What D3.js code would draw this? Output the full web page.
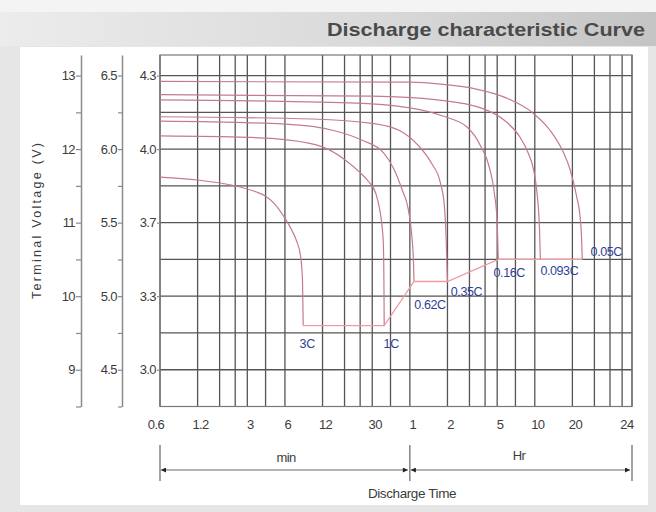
<!DOCTYPE html>
<html>
<head>
<meta charset="utf-8">
<script src="https://cdn.jsdelivr.net/npm/d3@7"></script>
<style>
  html, body { margin: 0; padding: 0; background: #e6e6e6; }
  svg { display: block; font-family: "Liberation Sans", Arial, sans-serif; }
</style>
</head>
<body>
<svg id="chart" width="656" height="512"></svg>
<script>
// ---------------- DATA ----------------
const title = "Discharge characteristic Curve";
const yLabel = "Terminal Voltage  (V)";
const xLabel = "Discharge Time";

// time in minutes
const xTickValues = [0.6, 1.2, 3, 6, 12, 30, 60, 120, 300, 600, 1200, 3600];
const xTickLabels = ["0.6", "1.2", "3", "6", "12", "30", "1", "2", "5", "10", "20", "24"];
const gridTimes = [0.6, 1.2, 1.8, 2.4, 3, 4.2, 6, 12, 18, 24, 30, 42, 60, 120, 180, 240, 300, 420,
                   600, 1200, 1800, 2400, 3000, 3600];

// voltages (12 V battery)
const v12Ticks = [13, 12, 11, 10, 9];
const v12Minor = [12.5, 11.5, 10.5, 9.5, 8.5];
const v6Ticks = [6.5, 6.0, 5.5, 5.0, 4.5];
const v6Minor = [6.25, 5.75, 5.25, 4.75, 4.25];
const cellTickLabels = ["4.3", "4.0", "3.7", "3.3", "3.0"];
const hGrid = [13, 12.5, 12, 11.5, 11, 10.5, 10, 9.5, 9];

// discharge curves: [minutes, volts(12V)]
const rates = ["3C", "1C", "0.62C", "0.35C", "0.16C", "0.093C", "0.05C"];
const c3C = [[0.6, 11.62], [1.2, 11.58], [2.4, 11.5], [3.5, 11.42], [4.2, 11.36], [5, 11.25], [6, 11.06],
             [6.8, 10.9], [7.4, 10.76], [8, 10.55], [8.3, 10.2], [8.4, 9.6]];
const c1C = [[0.6, 12.18], [3, 12.16], [6, 12.13], [12, 12.03], [18, 11.86], [24, 11.68], [28, 11.56],
             [32, 11.4], [34.5, 11.17], [36, 10.94], [36.8, 10.72], [37.2, 10.2], [37.4, 9.6]];
const c062C = [[0.6, 12.38], [6, 12.34], [15, 12.25], [25, 12.12], [37, 11.95], [45, 11.72], [52, 11.45],
               [58, 11.2], [62, 10.85], [64, 10.5], [64.8, 10.2]];
const c035C = [[0.6, 12.44], [10, 12.41], [30, 12.35], [50, 12.25], [70, 12.05], [90, 11.8], [105, 11.55],
               [113, 11.25], [117, 10.8], [120, 10.2]];
const c016C = [[0.6, 12.67], [20, 12.63], [60, 12.56], [110, 12.45], [172, 12.3], [220, 12.05], [260, 11.75],
               [285, 11.4], [300, 11.0], [306, 10.5]];
const c0093C = [[0.6, 12.74], [30, 12.72], [100, 12.67], [231, 12.55], [350, 12.38], [450, 12.18], [530, 11.95],
                [590, 11.7], [630, 11.35], [655, 10.9], [665, 10.5]];
const c005C = [[0.6, 12.92], [60, 12.91], [110, 12.88], [200, 12.82], [350, 12.7], [581, 12.49], [800, 12.25],
               [1000, 11.98], [1151, 11.72], [1300, 11.35], [1383, 11.08], [1420, 10.8], [1440, 10.5]];
const curves = [c3C, c1C, c062C, c035C, c016C, c0093C, c005C];
// final (cut-off) voltage line
const endLine = [[8.4, 9.6], [37.4, 9.6], [64.8, 10.2], [120, 10.2], [306, 10.5], [665, 10.5], [1440, 10.5]];

// label pixel offsets from the curve end (style)
const labelOffsets = [[4, 18], [7, 18], [16, 23], [19, 10], [11, 13], [19, 11], [24, -8]];

// ---------------- CHART ----------------
const svg = d3.select("#chart");
const W = 656, H = 512;

const defs = svg.append("defs");
const hg = defs.append("linearGradient").attr("id", "hdr").attr("x1", 0).attr("x2", 1);
hg.append("stop").attr("offset", "0%").attr("stop-color", "#ececec");
hg.append("stop").attr("offset", "55%").attr("stop-color", "#dadada");
hg.append("stop").attr("offset", "100%").attr("stop-color", "#c4c4c4");

svg.append("rect").attr("width", W).attr("height", H).attr("fill", "#e6e6e6");
svg.append("rect").attr("x", 0).attr("y", 0).attr("width", W).attr("height", 12).attr("fill", "#f4f4f4");
svg.append("rect").attr("x", 0).attr("y", 12).attr("width", W).attr("height", 34).attr("fill", "url(#hdr)");
svg.append("rect").attr("x", 20).attr("y", 47).attr("width", 628).attr("height", 458).attr("fill", "#ffffff");

svg.append("text").attr("x", 645).attr("y", 36).attr("text-anchor", "end")
  .attr("font-size", 18.5).attr("font-weight", "bold").attr("fill", "#4a4a4a")
  .attr("textLength", 318).attr("lengthAdjust", "spacingAndGlyphs")
  .text(title);

const L = 160, R = 632, T = 55, B = 406.5;
const x = d3.scaleLog().domain([0.6, 3600]).range([L, R]);
const y = d3.scaleLinear().domain([8.5, 13.28]).range([B, T]);
const y6 = d3.scaleLinear().domain([4.25, 6.64]).range([B, T]);

const gridColor = "#555555";
// grid
svg.append("g").selectAll("line").data(gridTimes).join("line")
  .attr("x1", d => x(d)).attr("x2", d => x(d)).attr("y1", T).attr("y2", B)
  .attr("stroke", gridColor).attr("stroke-width", 1.3);
svg.append("g").selectAll("line").data(hGrid).join("line")
  .attr("x1", L).attr("x2", R).attr("y1", d => y(d)).attr("y2", d => y(d))
  .attr("stroke", gridColor).attr("stroke-width", 1.3);
svg.append("rect").attr("x", L).attr("y", T).attr("width", R - L).attr("height", B - T)
  .attr("fill", "none").attr("stroke", "#777").attr("stroke-width", 1.2);

// curves
const line = d3.line().x(d => x(d[0])).y(d => y(d[1])).curve(d3.curveMonotoneX);
svg.append("g").selectAll("path").data(curves).join("path")
  .attr("d", line).attr("fill", "none").attr("stroke", "#c47b8c").attr("stroke-width", 1.2);
svg.append("path").datum(endLine)
  .attr("d", d3.line().x(d => x(d[0])).y(d => y(d[1])))
  .attr("fill", "none").attr("stroke", "#f29aa4").attr("stroke-width", 1.3);

// rate labels
svg.append("g").selectAll("text").data(rates).join("text")
  .attr("x", (d, i) => x(curves[i][curves[i].length - 1][0]) + labelOffsets[i][0])
  .attr("y", (d, i) => y(curves[i][curves[i].length - 1][1]) + labelOffsets[i][1])
  .attr("dy", "0.35em").attr("text-anchor", "middle")
  .attr("font-size", 12.5).attr("letter-spacing", -0.4).attr("fill", "#2f3f96")
  .text(d => d);

// left axes
function styleAxis(g) {
  g.select(".domain").attr("stroke", "#8a8a8a").attr("stroke-width", 1.5);
  g.selectAll(".tick line").attr("stroke", "#8a8a8a").attr("stroke-width", 1.2);
  g.selectAll(".tick text").attr("fill", "#3c3c3c").attr("font-size", 13).attr("letter-spacing", -0.6)
    .attr("font-family", "'Liberation Sans', Arial, sans-serif");
}
const ax12 = svg.append("g").attr("transform", "translate(81,0)")
  .call(d3.axisLeft(y).tickValues(v12Ticks.concat(v12Minor)).tickSize(5).tickPadding(1)
    .tickSizeOuter(0).tickFormat(d => v12Ticks.includes(d) ? d3.format("d")(d) : ""));
styleAxis(ax12);
const ax6 = svg.append("g").attr("transform", "translate(122,0)")
  .call(d3.axisLeft(y6).tickValues(v6Ticks.concat(v6Minor)).tickSize(4).tickPadding(1)
    .tickSizeOuter(0).tickFormat(d => v6Ticks.includes(d) ? d3.format(".1f")(d) : ""));
styleAxis(ax6);
const axCell = svg.append("g").attr("transform", `translate(${L},0)`)
  .call(d3.axisLeft(y).tickValues(v12Ticks).tickSize(3).tickPadding(1).tickSizeOuter(0)
    .tickFormat((d, i) => cellTickLabels[i]));
styleAxis(axCell);
axCell.select(".domain").remove();

// x tick labels
const xLabOffsets = xTickValues.map((d, i) => i === 0 ? -4 : (i === xTickValues.length - 1 ? -5 : 3));
svg.append("g").selectAll("text").data(xTickValues).join("text")
  .attr("x", (d, i) => x(d) + xLabOffsets[i]).attr("y", 424).attr("dy", "0.35em")
  .attr("text-anchor", "middle").attr("font-size", 13).attr("letter-spacing", -0.6).attr("fill", "#3c3c3c")
  .text((d, i) => xTickLabels[i]);

// y title
svg.append("text").attr("transform", "translate(37,221) rotate(-90)")
  .attr("text-anchor", "middle").attr("dy", "0.35em")
  .attr("font-size", 12.5).attr("fill", "#3c3c3c")
  .attr("textLength", 156).attr("lengthAdjust", "spacing")
  .text(yLabel);

// bottom time ranges
const mk = (id, orient) => {
  defs.append("marker").attr("id", id).attr("viewBox", "0 0 10 10").attr("refX", 10).attr("refY", 5)
    .attr("markerWidth", 14).attr("markerHeight", 5).attr("markerUnits", "userSpaceOnUse")
    .attr("orient", orient)
    .append("path").attr("d", "M0,0 L10,5 L0,10 Z").attr("fill", "#222");
};
mk("arr", "auto-start-reverse");
const aY = 470;
const xMid = x(60);
[[x(0.6), xMid], [xMid, x(3600)]].forEach(([a, b]) => {
  svg.append("line").attr("x1", a + 1).attr("x2", b - 2).attr("y1", aY).attr("y2", aY)
    .attr("stroke", "#9a9a9a").attr("stroke-width", 1.5)
    .attr("marker-start", "url(#arr)").attr("marker-end", "url(#arr)");
});
[x(0.6), xMid, x(3600)].forEach(v => {
  svg.append("line").attr("x1", v).attr("x2", v).attr("y1", 445).attr("y2", 481)
    .attr("stroke", "#666").attr("stroke-width", 1.2);
});
svg.append("text").attr("x", 286).attr("y", 457).attr("dy", "0.35em").attr("text-anchor", "middle")
  .attr("font-size", 13).attr("letter-spacing", -0.6).attr("fill", "#3c3c3c").text("min");
svg.append("text").attr("x", 519).attr("y", 455).attr("dy", "0.35em").attr("text-anchor", "middle")
  .attr("font-size", 13).attr("letter-spacing", -0.6).attr("fill", "#3c3c3c").text("Hr");
svg.append("text").attr("x", 412).attr("y", 493).attr("dy", "0.35em").attr("text-anchor", "middle")
  .attr("font-size", 13.5).attr("letter-spacing", -0.4).attr("fill", "#3c3c3c").text(xLabel);
</script>
</body>
</html>
